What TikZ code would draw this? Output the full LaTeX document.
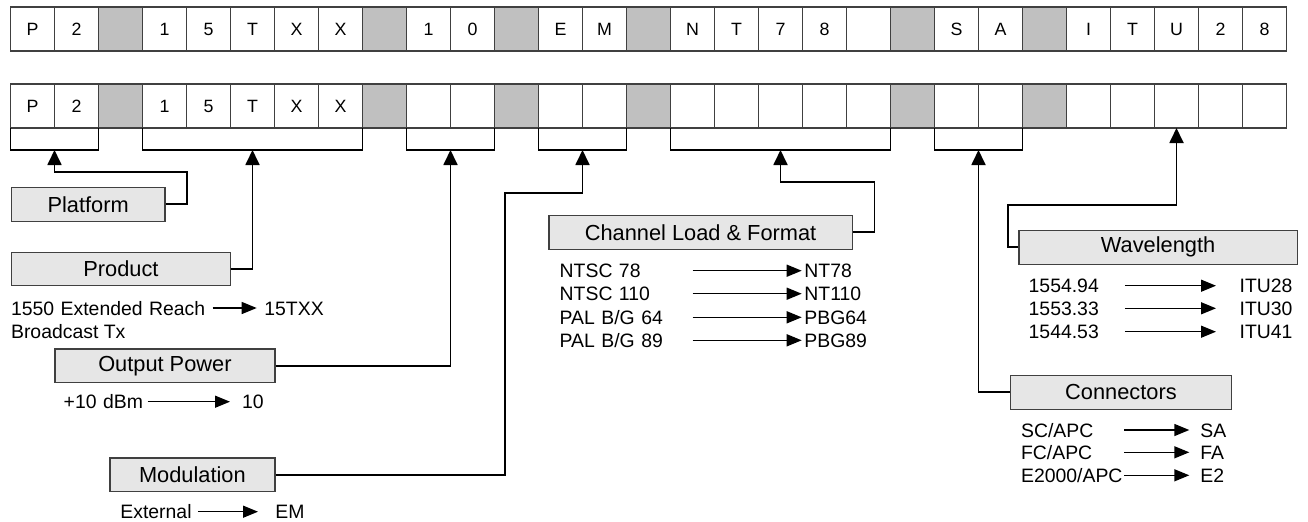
\documentclass[tikz,border=0pt]{standalone}
\usepackage{fontspec}
\setmainfont{Liberation Sans}
\usetikzlibrary{arrows.meta,positioning,calc}
\definecolor{cellgrey}{HTML}{C0C0C0}
\definecolor{boxfill}{HTML}{E6E6E6}
\definecolor{edgegrey}{HTML}{404040}
\def\gapmark{-}
\tikzset{
  cell/.style={draw=edgegrey,line width=0.6pt,fill=white,minimum width=22pt,
               minimum height=22pt,inner sep=0pt,outer sep=0pt,anchor=north west,
               font=\fontsize{8.9}{10}\selectfont},
  gapcell/.style={cell,fill=cellgrey},
  fieldbox/.style={draw=edgegrey,line width=0.6pt,fill=boxfill,minimum height=16.75pt,
                   inner sep=0pt,anchor=north west,font=\fontsize{10.9}{13}\selectfont},
  bracket/.style={line width=0.9pt},
  conn/.style={-{Triangle[length=7.5pt,width=7pt]},line width=0.9pt},
  map/.style={-{Triangle[length=7.5pt,width=6pt]},line width=0.7pt},
  keytxt/.style={font=\fontsize{9.7}{11.6}\selectfont,inner sep=0pt,anchor=west,
                 text height=7pt,text depth=0pt,align=left},
}

\begin{document}
\begin{tikzpicture}[x=0.5pt,y=-0.5pt]
  \useasboundingbox (0,0) rectangle (1308,521);

  % part number rows
  \foreach \t [count=\i from 0] in {P,2,-,1,5,T,X,X,-,1,0,-,E,M,-,N,T,7,8,{},-,S,A,-,I,T,U,2,8}{
    \edef\celltxt{\t}
    \ifx\celltxt\gapmark \node[gapcell] (top\i) at (10.5+44*\i,7) {};
    \else \node[cell] (top\i) at (10.5+44*\i,7) {\t}; \fi
  }
  \foreach \t [count=\i from 0] in {P,2,-,1,5,T,X,X,-,{},{},-,{},{},-,{},{},{},{},{},-,{},{},-,{},{},{},{},{}}{
    \edef\celltxt{\t}
    \ifx\celltxt\gapmark \node[gapcell] (bot\i) at (10.5+44*\i,84) {};
    \else \node[cell] (bot\i) at (10.5+44*\i,84) {\t}; \fi
  }

  % brackets under the field groups
  \foreach \a/\b/\n in {0/1/plat,3/7/prod,9/10/pow,12/13/mod,15/19/chan,21/22/conn}{
    \draw[bracket] (bot\a.south west) -- ++(0,22) -| (bot\b.south east);
    \coordinate (br\n) at ($(bot\a.south west)!0.5!(bot\b.south east)+(0,22)$);
  }

  % field boxes
  \node[fieldbox,minimum width=76.8pt] (platform) at (10.7,187) {Platform};
  \node[fieldbox,minimum width=109.65pt] (product) at (10.7,251.7) {Product};
  \node[fieldbox,minimum width=110pt] (power) at (54.3,348.3) {Output Power};
  \node[fieldbox,minimum width=82.5pt] (modul) at (109.3,457.3) {Modulation};
  \node[fieldbox,minimum width=151.7pt] (chan) at (548.3,215) {Channel Load \& Format};
  \node[fieldbox,minimum width=139.2pt] (wave) at (1018.3,230) {Wavelength};
  \node[fieldbox,minimum width=110.35pt] (conns) at (1010,375) {Connectors};

  % box to field
  \draw[conn] (platform.east) -- ++(21.7,0) |- ($(brplat)+(0,22)$) -- (brplat);
  \draw[conn] (product.east) -| (brprod);
  \draw[conn] (power.east) -| (brpow);
  \draw[conn] (modul.east) -| ($(brmod)+(-77.5,43)$) -| (brmod);
  \draw[conn] (chan.east) -- ++(21.6,0) |- ($(brchan)+(0,32.3)$) -- (brchan);
  \draw[conn] (wave.west) -- ++(-10.6,0) |- ($(bot26.south)+(0,77)$) -- (bot26.south);
  \draw[conn] (conns.west) -| (brconn);

  % code tables
  \node[keytxt,text width=100.5pt] (prodin) at (10.7,308) {1550 Extended Reach};
  \node[keytxt,below=4.5pt of prodin.south west,anchor=north west] (prodin2) {Broadcast Tx};
  \node[keytxt] (prodout) at (264,308) {15TXX};
  \draw[map,shorten >=3.65pt] (prodin) -- (prodout);

  \node[keytxt,text width=41.7pt] (powin) at (63.3,401.7) {+10 dBm};
  \node[keytxt] (powout) at (241.7,401.7) {10};
  \draw[map,shorten >=5.85pt] (powin) -- (powout);

  \node[keytxt,text width=38.5pt] (modin) at (120,511.7) {External};
  \node[keytxt] (modout) at (275,511.7) {EM};
  \draw[map,shorten >=8.5pt] (modin) -- (modout);

  \foreach \src/\code/\yy [count=\k] in {NTSC 78/NT78/270.7,NTSC 110/NT110/293.7,
      {PAL B/G 64}/PBG64/317.3,{PAL B/G 89}/PBG89/340.3}{
    \node[keytxt,text width=66.2pt] (chin\k) at (559.3,\yy) {\src};
    \node[keytxt] (chout\k) at (804,\yy) {\code};
    \draw[map,shorten >=1.15pt] (chin\k) -- (chout\k);
  }
  \foreach \src/\code/\yy [count=\k] in {1554.94/ITU28/285.7,1553.33/ITU30/308.3,1544.53/ITU41/331.7}{
    \node[keytxt,text width=47.85pt] (wavin\k) at (1028.3,\yy) {\src};
    \node[keytxt] (wavout\k) at (1239.3,\yy) {\code};
    \draw[map,shorten >=11.65pt] (wavin\k) -- (wavout\k);
  }
  \foreach \src/\code/\yy [count=\k] in {{SC/APC}/SA/430,{FC/APC}/FA/452.3,{E2000/APC}/E2/475.3}{
    \node[keytxt,text width=51.3pt] (conin\k) at (1020.7,\yy) {\src};
    \node[keytxt] (conout\k) at (1200,\yy) {\code};
    \draw[map,shorten >=5.35pt] (conin\k) -- (conout\k);
  }
\end{tikzpicture}
\end{document}
